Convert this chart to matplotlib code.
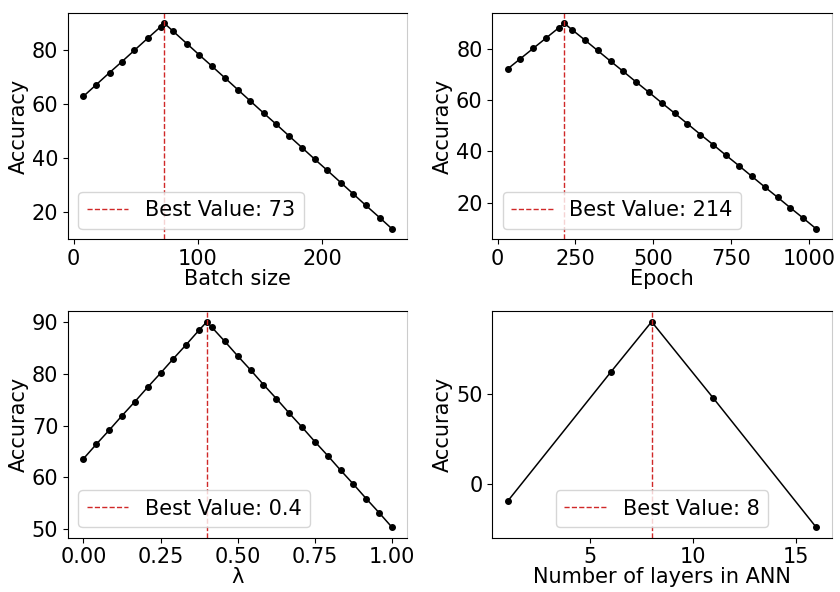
import matplotlib
matplotlib.use('Agg')
import matplotlib.pyplot as plt
from matplotlib.ticker import MultipleLocator

# Batch size
batch_x = [8, 18, 29, 39, 49, 60, 70, 73, 80, 91, 101, 111, 122, 132, 142, 153,
           163, 173, 184, 194, 204, 215, 225, 235, 246, 256]
batch_acc = [62.9, 67.1, 71.7, 75.8, 80.0, 84.6, 88.7, 90.0, 87.1, 82.5, 78.3, 74.2,
             69.6, 65.4, 61.2, 56.6, 52.5, 48.3, 43.7, 39.5, 35.4, 30.8, 26.6, 22.4,
             17.9, 13.7]
batch_best = 73

# Epoch
epoch_x = [32, 73, 115, 156, 197, 214, 239, 280, 321, 363, 404, 445, 487, 528, 569,
           610, 652, 693, 734, 776, 817, 858, 900, 941, 982, 1024]
epoch_acc = [72.2, 76.2, 80.3, 84.3, 88.3, 90.0, 87.5, 83.5, 79.4, 75.2, 71.2, 67.1,
             63.0, 58.9, 54.9, 50.8, 46.6, 42.6, 38.5, 34.4, 30.3, 26.2, 22.1, 18.0,
             14.0, 9.8]
epoch_best = 214

# lambda
lam_x = [0.0, 0.0417, 0.0833, 0.125, 0.1667, 0.2083, 0.25, 0.2917, 0.3333, 0.375,
         0.4, 0.4167, 0.4583, 0.5, 0.5417, 0.5833, 0.625, 0.6667, 0.7083, 0.75,
         0.7917, 0.8333, 0.875, 0.9167, 0.9583, 1.0]
lam_acc = [63.6, 66.4, 69.1, 71.9, 74.6, 77.4, 80.1, 82.9, 85.6, 88.4, 90.0, 88.9,
           86.2, 83.4, 80.7, 77.9, 75.2, 72.4, 69.7, 66.9, 64.2, 61.4, 58.7, 55.9,
           53.2, 50.4]
lam_best = 0.4

# layers
layer_x = [1, 6, 8, 11, 16]
layer_acc = [-9.8, 61.8, 90.0, 47.5, -24.3]
layer_best = 8

# x label, legend position, x tick step, y tick step
panels = [
    (batch_x, batch_acc, batch_best, 'Batch size', 'lower left', 100, 20),
    (epoch_x, epoch_acc, epoch_best, 'Epoch', 'lower left', 250, 20),
    (lam_x, lam_acc, lam_best, 'λ', 'lower left', 0.25, 10),
    (layer_x, layer_acc, layer_best, 'Number of layers in ANN', 'lower center', 5, 50),
]

plt.rcParams['font.size'] = 15
fig, axes = plt.subplots(2, 2, figsize=(8.4, 5.92), dpi=100)
plt.subplots_adjust(left=0.081, right=0.99, top=0.978, bottom=0.092,
                    wspace=0.25, hspace=0.32)

for ax, (x, y, best, xlabel, loc, xstep, ystep) in zip(axes.flat, panels):
    ax.plot(x, y, color='black', marker='o', markersize=4, linewidth=1.1)
    ax.axvline(best, color='#d02828', linestyle='--', linewidth=1,
               label=f'Best Value: {best}')
    ax.set_xlabel(xlabel, labelpad=0)
    ax.set_ylabel('Accuracy', labelpad=2)
    ax.xaxis.set_major_locator(MultipleLocator(xstep))
    ax.yaxis.set_major_locator(MultipleLocator(ystep))
    ax.legend(loc=loc)
    ax.spines['right'].set_color('#cccccc')

plt.savefig('out.png')
